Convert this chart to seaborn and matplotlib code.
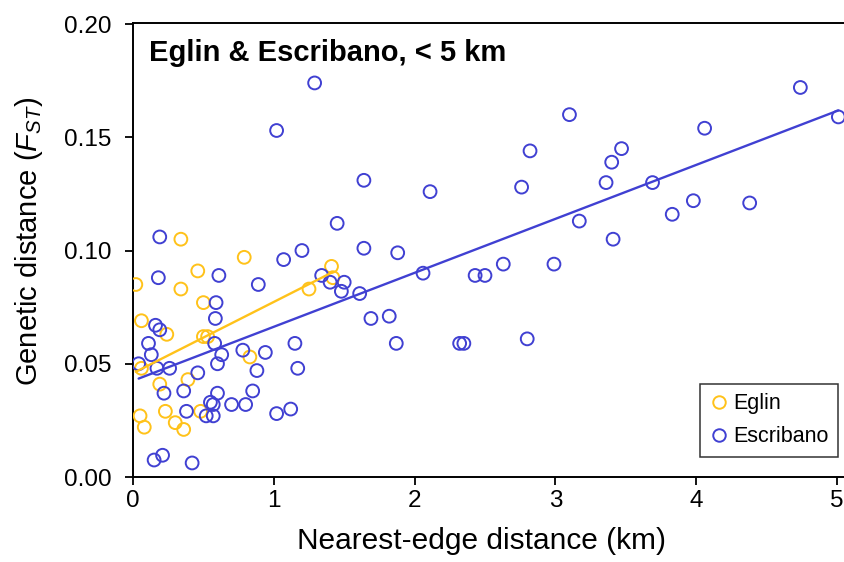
import matplotlib
matplotlib.use("Agg")
import matplotlib.pyplot as plt
import seaborn as sns
import pandas as pd
from matplotlib.lines import Line2D

# --- Data ---
eglin_x = [0.02, 0.34, 0.79, 0.46, 0.34, 0.50, 0.06, 0.24, 0.50, 0.53, 0.06, 0.83,
           0.19, 0.39, 0.05, 0.23, 0.08, 0.30, 0.36, 0.48, 1.25, 1.41, 1.42]
eglin_y = [0.085, 0.105, 0.097, 0.091, 0.083, 0.077, 0.069, 0.063, 0.062, 0.062, 0.048, 0.053,
           0.041, 0.043, 0.027, 0.029, 0.022, 0.024, 0.021, 0.029, 0.083, 0.093, 0.088]

escribano_x = [0.19, 0.18, 0.61, 0.59, 0.585, 0.16, 0.19, 0.11, 0.13, 0.58, 0.63, 0.60,
               0.17, 0.26, 0.04, 0.46, 0.22, 0.36, 0.60, 0.55, 0.57, 0.38, 0.52, 0.57,
               0.70, 0.80, 0.85, 0.88, 0.78, 0.94, 0.89, 1.07, 1.20, 1.34, 1.15, 1.17,
               1.02, 1.12, 0.15, 0.21, 0.42, 1.29, 1.02, 1.64, 2.11, 1.45, 1.64, 1.88,
               1.40, 1.50, 1.48, 1.61, 2.06, 2.43, 2.50, 2.63, 1.69, 1.82, 1.87, 2.32,
               2.35, 4.74, 5.01, 3.10, 4.06, 2.82, 3.47, 3.40, 3.36, 2.76, 3.69, 3.98,
               4.38, 3.83, 3.17, 3.41, 2.99, 2.80]
escribano_y = [0.106, 0.088, 0.089, 0.077, 0.070, 0.067, 0.065, 0.059, 0.054, 0.059, 0.054, 0.050,
               0.048, 0.048, 0.050, 0.046, 0.037, 0.038, 0.037, 0.033, 0.032, 0.029, 0.027, 0.027,
               0.032, 0.032, 0.038, 0.047, 0.056, 0.055, 0.085, 0.096, 0.100, 0.089, 0.059, 0.048,
               0.028, 0.030, 0.0075, 0.0096, 0.0062, 0.174, 0.153, 0.131, 0.126, 0.112, 0.101, 0.099,
               0.086, 0.086, 0.082, 0.081, 0.090, 0.089, 0.089, 0.094, 0.070, 0.071, 0.059, 0.059,
               0.059, 0.172, 0.159, 0.160, 0.154, 0.144, 0.145, 0.139, 0.130, 0.128, 0.130, 0.122,
               0.121, 0.116, 0.113, 0.105, 0.094, 0.061]

sites = ["Eglin", "Escribano"]
site_colors = {"Eglin": "#FFC21A", "Escribano": "#4040D2"}

df = pd.concat([
    pd.DataFrame({"dist": eglin_x, "fst": eglin_y, "site": "Eglin"}),
    pd.DataFrame({"dist": escribano_x, "fst": escribano_y, "site": "Escribano"}),
])

# --- Style ---
sns.set_style("ticks")
plt.rcParams["font.family"] = ["Liberation Sans", "DejaVu Sans"]
plt.rcParams["mathtext.fontset"] = "custom"
plt.rcParams["mathtext.rm"] = "Liberation Sans"
plt.rcParams["mathtext.it"] = "Liberation Sans:italic"
plt.rcParams["text.color"] = "black"
plt.rcParams["axes.labelcolor"] = "black"

fig = plt.figure(figsize=(8.44, 5.62), dpi=100)
ax = fig.add_axes([133 / 844, 85 / 562, 1 - 133 / 844, (477 - 22.7) / 562])

for site in sites:
    sub = df[df["site"] == site]
    sns.regplot(
        data=sub, x="dist", y="fst", ax=ax, ci=None, truncate=True,
        color=site_colors[site],
        scatter_kws=dict(facecolors="none", s=85, linewidths=1.4, alpha=1, zorder=3),
        line_kws=dict(linewidth=1.7, zorder=4),
    )

ax.set_xlim(0, 5.05)
ax.set_ylim(0, 0.2006)
ax.set_xticks([0, 1, 2, 3, 4, 5])
ax.set_yticks([0, 0.05, 0.10, 0.15, 0.20])
ax.set_yticklabels(["0.00", "0.05", "0.10", "0.15", "0.20"])

for side in ["left", "bottom", "top"]:
    ax.spines[side].set_linewidth(1.4)
    ax.spines[side].set_color("black")
ax.spines["right"].set_visible(False)
ax.tick_params(direction="out", length=5.5, width=1.3, labelsize=17.5, colors="black")
ax.tick_params(axis="y", pad=10)
ax.tick_params(axis="x", pad=4)

ax.set_xlabel("Nearest-edge distance (km)", fontsize=21.5)
ax.set_ylabel(r"Genetic distance ($F_{ST}$)", fontsize=21)
ax.xaxis.set_label_coords(0.49, -0.11)
ax.yaxis.set_label_coords(-0.124, 0.519)

ax.text(0.022, 0.965, "Eglin & Escribano, < 5 km", transform=ax.transAxes,
        fontsize=21, fontweight="bold", va="top", ha="left")

handles = [Line2D([], [], marker="o", linestyle="", markerfacecolor="none",
                  markeredgecolor=site_colors[s], markersize=9, markeredgewidth=1.4)
           for s in sites]
leg = ax.legend(handles, sites, loc="lower right", bbox_to_anchor=(0.992, 0.044),
                borderaxespad=0, fontsize=15.5, frameon=True, fancybox=False,
                framealpha=1, edgecolor="#333333", handlelength=0.9,
                handletextpad=0.2, labelspacing=0.55, borderpad=0.45)
leg.get_frame().set_linewidth(1.1)

fig.savefig("out.png", dpi=100)
